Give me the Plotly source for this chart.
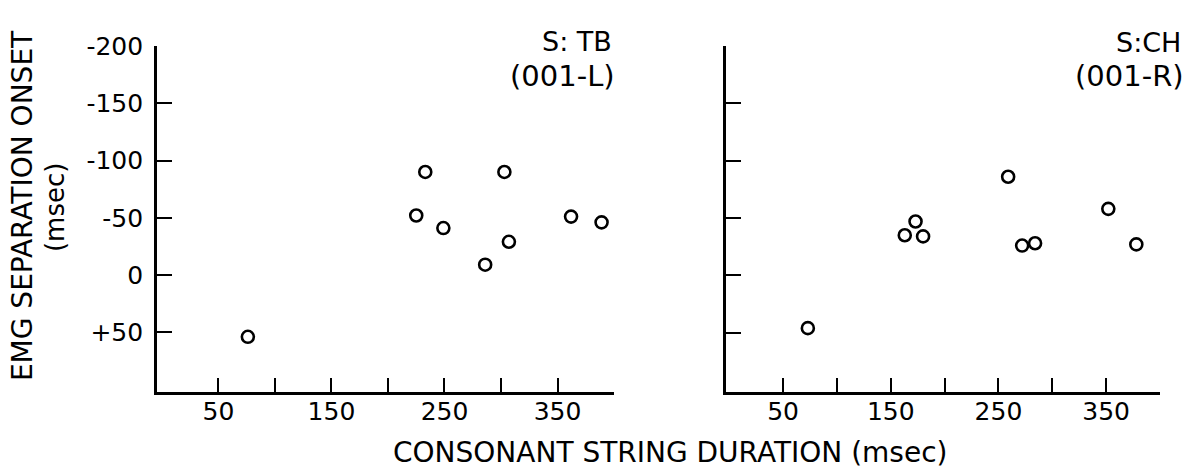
import plotly.graph_objects as go

# Subject TB (001-L): consonant string duration vs EMG separation onset (msec)
tb_duration = [233, 303, 225, 249, 362, 389, 307, 286, 76]
tb_onset = [-90, -90, -52, -41, -51, -46, -29, -9, 54]

# Subject CH (001-R)
ch_duration = [259, 352, 173, 163, 180, 272, 284, 378, 73]
ch_onset = [-86, -58, -47, -35, -34, -26, -28, -27, 46]

x_tick_vals = [50, 100, 150, 200, 250, 300, 350, 400]
x_tick_text = ["50", "", "150", "", "250", "", "350", ""]
y_tick_vals = [-200, -150, -100, -50, 0, 50]
y_tick_text = ["-200", "-150", "-100", "-50", "0", "+50"]

FONT = "DejaVu Sans"
W, H = 1192, 469

fig = go.Figure()

marker = dict(symbol="circle-open", size=12, color="black", line=dict(width=2.6, color="black"))

fig.add_trace(go.Scatter(x=tb_duration, y=tb_onset, mode="markers", marker=marker,
                         xaxis="x", yaxis="y", showlegend=False))
fig.add_trace(go.Scatter(x=ch_duration, y=ch_onset, mode="markers", marker=marker,
                         xaxis="x2", yaxis="y2", showlegend=False))

axis_common = dict(showgrid=False, zeroline=False, showline=True, linecolor="black",
                   linewidth=2.6, ticks="inside", tickcolor="black", tickwidth=2.4,
                   ticklen=15, fixedrange=True)

xdom_left = [157 / W, 614 / W]
xdom_right = [726 / W, 1160 / W]
ydom = [(H - 390) / H, (H - 33) / H]

fig.update_layout(
    width=W, height=H,
    margin=dict(l=0, r=0, t=0, b=0),
    paper_bgcolor="white", plot_bgcolor="white",
    font=dict(family=FONT, color="black"),
    xaxis=dict(axis_common, domain=xdom_left, range=[-4.4, 400], anchor="y",
               tickvals=x_tick_vals, ticktext=x_tick_text,
               tickfont=dict(size=25, family=FONT), ticklabelstandoff=-5),
    yaxis=dict(axis_common, domain=ydom, range=[102.5, -200], anchor="x",
               tickvals=y_tick_vals, ticktext=y_tick_text,
               tickfont=dict(size=25, family=FONT), ticklabelstandoff=6),
    xaxis2=dict(axis_common, domain=xdom_right, range=[-3, 400], anchor="y2",
                tickvals=x_tick_vals, ticktext=x_tick_text,
                tickfont=dict(size=25, family=FONT), ticklabelstandoff=-5),
    yaxis2=dict(axis_common, domain=ydom, range=[102, -200], anchor="x2",
                tickvals=y_tick_vals, showticklabels=False),
)

def px_x(p):
    return p / W

def px_y(p):
    return (H - p) / H

annotations = [
    dict(text="CONSONANT STRING DURATION (msec)", x=px_x(670), y=px_y(452),
         font=dict(size=28)),
    dict(text="EMG SEPARATION ONSET", x=px_x(22), y=px_y(198), textangle=-90,
         font=dict(size=28)),
    dict(text="(msec)", x=px_x(55), y=px_y(200), textangle=-90, font=dict(size=26)),
    dict(text="S: TB", x=px_x(614), y=px_y(28), xanchor="right", font=dict(size=27)),
    dict(text="(001-L)", x=px_x(617), y=px_y(64), xanchor="right", font=dict(size=29)),
    dict(text="S:CH", x=px_x(1183), y=px_y(29), xanchor="right", font=dict(size=27)),
    dict(text="(001-R)", x=px_x(1186), y=px_y(64), xanchor="right", font=dict(size=29)),
]
for a in annotations:
    a.setdefault("xanchor", "center")
    a.update(xref="paper", yref="paper", yanchor="middle", showarrow=False)
    a["font"].update(family=FONT, color="black")
fig.update_layout(annotations=annotations)

fig.write_html("out.html", config={"displayModeBar": False})
